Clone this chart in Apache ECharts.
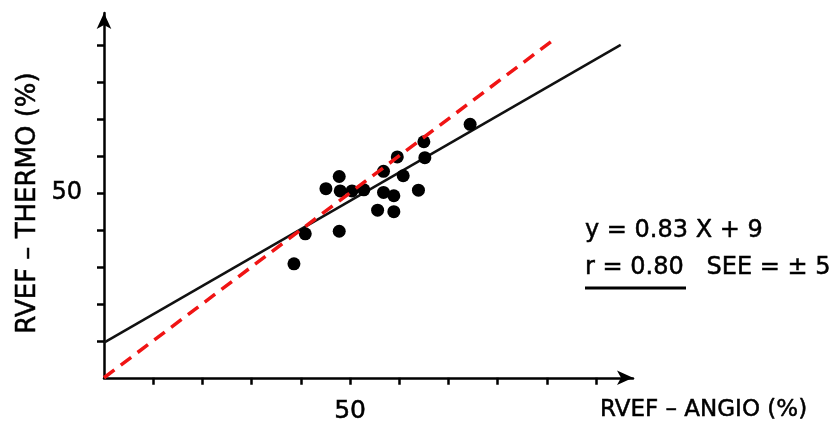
<!DOCTYPE html>
<html>
<head>
<meta charset="utf-8">
<script src="https://cdn.jsdelivr.net/npm/echarts@6/dist/echarts.min.js"></script>
<style>
  html, body { margin: 0; padding: 0; background: #fff; }
  #chart { width: 839px; height: 424px; }
</style>
</head>
<body>
<div id="chart"></div>
<script>
(function () {
  "use strict";

  // Measured points: RVEF angio (x) vs RVEF thermo (y), in %
  const angio = [38.6, 40.9, 47.8, 45.1, 47.8, 48.0, 50.4, 52.8, 56.8, 56.8, 58.9, 55.6, 58.9, 59.6, 60.8, 63.9, 65.0, 65.2, 74.4];
  const thermo = [30.8, 38.9, 39.6, 51.1, 54.4, 50.5, 50.5, 50.8, 55.8, 50.1, 49.2, 45.3, 44.9, 59.7, 54.6, 50.7, 63.8, 59.5, 68.5];

  // Regression line as drawn (ends), and line of identity
  const regX = [0, 105];
  const regY = [9.5, 90];
  const identX = [0, 92];
  const identY = [0, 92];

  // Tick positions and labels
  const tickValues = [10, 20, 30, 40, 50, 60, 70, 80, 90, 100];
  const yTickValues = [10, 20, 30, 40, 50, 60, 70, 80, 90];
  const labelValues = [50];

  const font = 'DejaVu Sans';
  const zip = (xs, ys) => xs.map((x, i) => [x, ys[i]]);

  // scanned-looking lettering: plain text with a thin stroke
  function txt(x, y, text, size, align, rotation) {
    return {
      type: 'text', x: x, y: y, rotation: rotation || 0,
      style: {
        text: text, font: size + 'px "DejaVu Sans"', fill: '#000',
        stroke: '#000', lineWidth: 0.5,
        align: align, verticalAlign: 'middle'
      }
    };
  }

  const axisBase = {
    type: 'value',
    min: 0,
    splitLine: { show: false },
    axisLine: {
      show: true,
      onZero: false,
      symbol: ['none', 'arrow'],
      symbolSize: [11, 16],
      lineStyle: { color: '#000', width: 2.5 }
    },
    axisTick: {
      show: true,
      inside: false,
      length: 7,
      lineStyle: { color: '#000', width: 2.5 }
    },
    axisLabel: {
      show: true,
      color: '#000',
      fontFamily: font,
      fontSize: 25,
      textBorderColor: '#000',
      textBorderWidth: 0.5,
      margin: 18,
      customValues: labelValues
    }
  };

  const chart = echarts.init(document.getElementById('chart'));
  chart.setOption({
    animation: false,
    backgroundColor: '#fff',
    grid: { left: 104, right: 206, top: 13, bottom: 46 },
    xAxis: Object.assign({}, axisBase, {
      max: 107.5,
      axisTick: Object.assign({}, axisBase.axisTick, { customValues: tickValues }),
      axisLabel: Object.assign({}, axisBase.axisLabel, { margin: 21 })
    }),
    yAxis: Object.assign({}, axisBase, {
      max: 98.6,
      axisTick: Object.assign({}, axisBase.axisTick, { customValues: yTickValues }),
      axisLabel: Object.assign({}, axisBase.axisLabel, { margin: 22, fontSize: 24 })
    }),
    series: [
      {
        type: 'line',
        data: zip(regX, regY),
        symbol: 'none',
        lineStyle: { color: '#111', width: 2.5 },
        z: 2
      },
      {
        type: 'line',
        data: zip(identX, identY),
        symbol: 'none',
        lineStyle: { color: '#f01414', width: 3.5, type: [13, 8] },
        z: 4
      },
      {
        type: 'scatter',
        data: zip(angio, thermo),
        symbolSize: 13,
        itemStyle: { color: '#000', opacity: 1 },
        z: 3
      }
    ],
    graphic: [
      txt(28, 203, 'RVEF – THERMO (%)', 26, 'center', Math.PI / 2),
      txt(600, 410, 'RVEF – ANGIO (%)', 23, 'left'),
      txt(585, 231, 'y = 0.83 X + 9', 24, 'left'),
      txt(585, 268, 'r = 0.80   SEE = ± 5', 24, 'left'),
      {
        type: 'line',
        shape: { x1: 585, y1: 288, x2: 686, y2: 288 },
        style: { stroke: '#000', lineWidth: 3 }
      }
    ]
  });
})();
</script>
</body>
</html>
